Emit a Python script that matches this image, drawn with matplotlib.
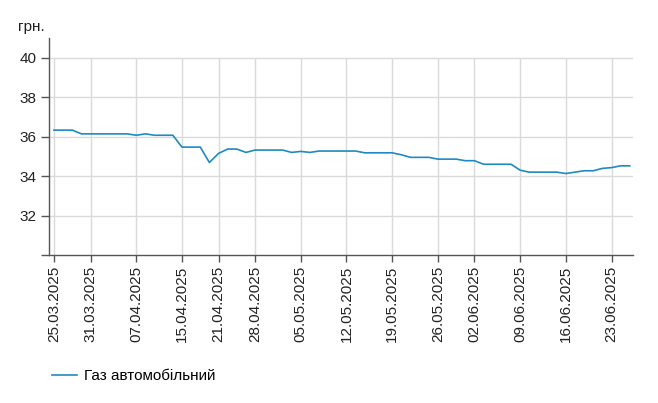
import matplotlib
matplotlib.use("Agg")
import matplotlib.pyplot as plt

plt.rcParams['font.family'] = ['Liberation Sans', 'DejaVu Sans']

dates = [
    "25.03.2025", "26.03.2025", "27.03.2025", "28.03.2025",
    "31.03.2025", "01.04.2025", "02.04.2025", "03.04.2025", "04.04.2025",
    "07.04.2025", "08.04.2025", "09.04.2025", "10.04.2025", "11.04.2025",
    "15.04.2025", "16.04.2025", "17.04.2025", "18.04.2025",
    "21.04.2025", "22.04.2025", "23.04.2025", "24.04.2025",
    "28.04.2025", "29.04.2025", "30.04.2025", "01.05.2025", "02.05.2025",
    "05.05.2025", "06.05.2025", "07.05.2025", "08.05.2025", "09.05.2025",
    "12.05.2025", "13.05.2025", "14.05.2025", "15.05.2025", "16.05.2025",
    "19.05.2025", "20.05.2025", "21.05.2025", "22.05.2025", "23.05.2025",
    "26.05.2025", "27.05.2025", "28.05.2025", "29.05.2025",
    "02.06.2025", "03.06.2025", "04.06.2025", "05.06.2025", "06.06.2025",
    "09.06.2025", "10.06.2025", "11.06.2025", "12.06.2025", "13.06.2025",
    "16.06.2025", "17.06.2025", "18.06.2025", "19.06.2025", "20.06.2025",
    "23.06.2025", "24.06.2025", "25.06.2025",
]

gas_prices = [
    36.33, 36.33, 36.33, 36.14,
    36.14, 36.14, 36.14, 36.14, 36.14,
    36.07, 36.14, 36.07, 36.07, 36.07,
    35.47, 35.47, 35.47, 34.69,
    35.15, 35.37, 35.37, 35.20,
    35.32, 35.32, 35.32, 35.32, 35.20,
    35.25, 35.20, 35.27, 35.27, 35.27,
    35.27, 35.27, 35.18, 35.18, 35.18,
    35.18, 35.08, 34.95, 34.95, 34.95,
    34.86, 34.86, 34.86, 34.78,
    34.78, 34.60, 34.60, 34.60, 34.60,
    34.30, 34.20, 34.20, 34.20, 34.20,
    34.13, 34.20, 34.27, 34.27, 34.39,
    34.43, 34.52, 34.52,
]

tick_labels = [
    "25.03.2025", "31.03.2025", "07.04.2025", "15.04.2025", "21.04.2025",
    "28.04.2025", "05.05.2025", "12.05.2025", "19.05.2025", "26.05.2025",
    "02.06.2025", "09.06.2025", "16.06.2025", "23.06.2025",
]

y_ticks = [30, 32, 34, 36, 38, 40]
y_tick_labels = ["", "32", "34", "36", "38", "40"]
series_name = "Газ автомобільний"
unit_label = "грн."

fig = plt.figure(figsize=(6.58, 4.03), dpi=100)
ax = fig.add_axes([49 / 658, 1 - 255 / 403, (633 - 49) / 658, (255 - 38) / 403])

x = list(range(len(dates)))
tick_pos = [dates.index(t) for t in tick_labels]

grid_color = "#dadada"
for yv in y_ticks[1:]:
    ax.axhline(yv, color=grid_color, lw=1.0, zorder=0)
ax.vlines(tick_pos, 30, 40, color=grid_color, lw=1.0, zorder=0)

ax.plot(x, gas_prices, color="#1f8ac0", lw=1.2, label=series_name, zorder=3)

ax.set_xlim(-0.55, len(dates) - 1 + 0.35)
ax.set_ylim(30, 41)

ax.set_xticks(tick_pos)
ax.set_xticklabels(tick_labels, rotation=90, fontsize=11, color="#222222")
ax.set_yticks(y_ticks)
ax.set_yticklabels(y_tick_labels, fontsize=11, color="#222222")

for s in ["top", "right"]:
    ax.spines[s].set_visible(False)
for s in ["left", "bottom"]:
    ax.spines[s].set_color("#555555")
    ax.spines[s].set_linewidth(1.0)

ax.tick_params(axis="x", length=5, width=1, color="#555555", pad=3)
ax.tick_params(axis="y", length=6, width=1, color="#555555", pad=3)

fig.text(18 / 658, 1 - 27 / 403, unit_label, fontsize=11, color="#222222",
         va="center", ha="left")

fig.legend(loc="center left", bbox_to_anchor=(52 / 658, 1 - 376 / 403),
           frameon=False, fontsize=11, handlelength=1.65, handletextpad=0.45,
           borderpad=0, borderaxespad=0)

fig.savefig("out.png", dpi=100)
